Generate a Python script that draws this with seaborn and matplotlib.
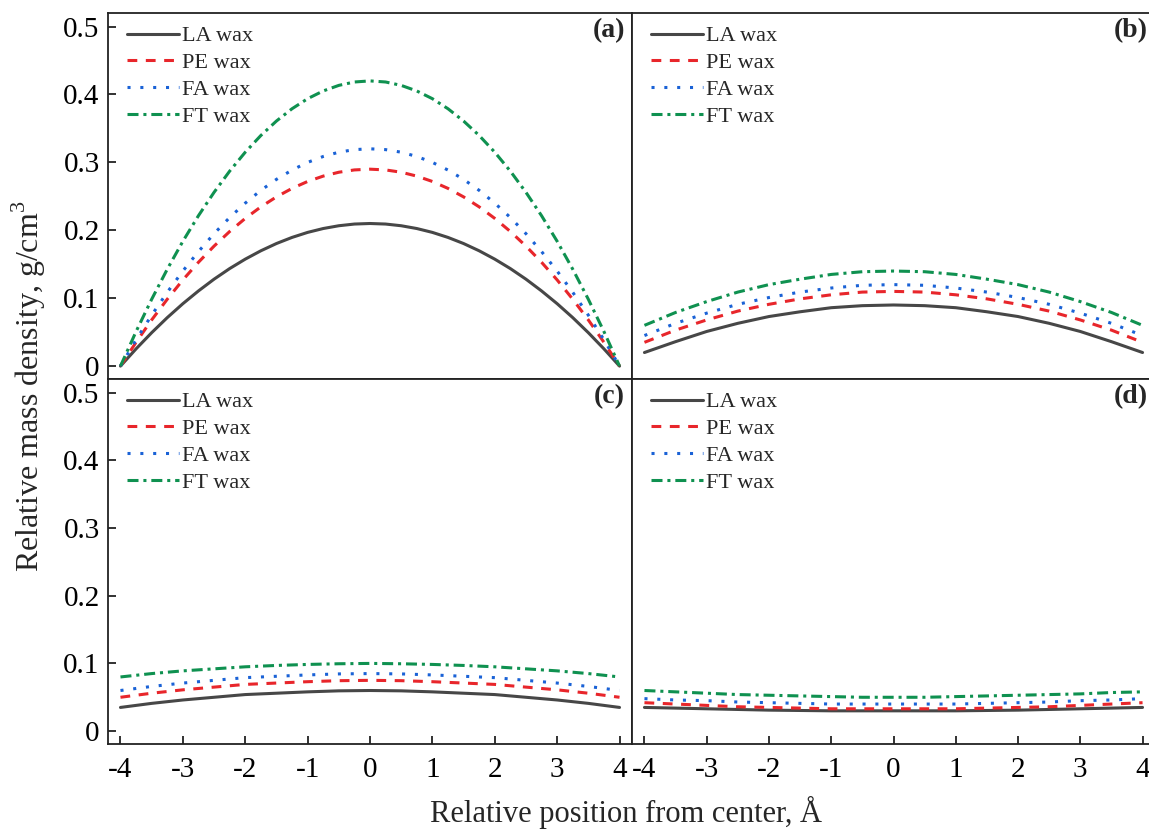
import numpy as np
import pandas as pd
import seaborn as sns
import matplotlib
matplotlib.use("Agg")
import matplotlib.pyplot as plt
from matplotlib.ticker import FuncFormatter

# ---------------- data ----------------
positions_a = [-4, -3.75, -3.5, -3.25, -3, -2.75, -2.5, -2.25, -2, -1.75, -1.5, -1.25, -1, -0.75, -0.5, -0.25,
               0, 0.25, 0.5, 0.75, 1, 1.25, 1.5, 1.75, 2, 2.25, 2.5, 2.75, 3, 3.25, 3.5, 3.75, 4]
positions = [-4, -3.5, -3, -2.5, -2, -1.5, -1, -0.5, 0, 0.5, 1, 1.5, 2, 2.5, 3, 3.5, 4]
series_names = ["LA wax", "PE wax", "FA wax", "FT wax"]
panel_labels = ["(a)", "(b)", "(c)", "(d)"]

a_LA = [0, 0.0254, 0.0492, 0.0714, 0.0919, 0.1107, 0.1280, 0.1436, 0.1575, 0.1698, 0.1805, 0.1895, 0.1969, 0.2026, 0.2067, 0.2092,
        0.2100, 0.2092, 0.2067, 0.2026, 0.1969, 0.1895, 0.1805, 0.1698, 0.1575, 0.1436, 0.1280, 0.1107, 0.0919, 0.0714, 0.0492, 0.0254, 0]
a_PE = [0, 0.0351, 0.0680, 0.0985, 0.1269, 0.1529, 0.1767, 0.1982, 0.2175, 0.2345, 0.2492, 0.2617, 0.2719, 0.2798, 0.2855, 0.2889,
        0.2900, 0.2889, 0.2855, 0.2798, 0.2719, 0.2617, 0.2492, 0.2345, 0.2175, 0.1982, 0.1767, 0.1529, 0.1269, 0.0985, 0.0680, 0.0351, 0]
a_FA = [0, 0.0388, 0.0750, 0.1087, 0.1400, 0.1687, 0.1950, 0.2188, 0.2400, 0.2588, 0.2750, 0.2887, 0.3000, 0.3087, 0.3150, 0.3188,
        0.3200, 0.3188, 0.3150, 0.3087, 0.3000, 0.2887, 0.2750, 0.2588, 0.2400, 0.2188, 0.1950, 0.1687, 0.1400, 0.1087, 0.0750, 0.0388, 0]
a_FT = [0, 0.0509, 0.0984, 0.1427, 0.1838, 0.2215, 0.2559, 0.2871, 0.3150, 0.3396, 0.3609, 0.3790, 0.3938, 0.4052, 0.4134, 0.4184,
        0.4200, 0.4184, 0.4134, 0.4052, 0.3938, 0.3790, 0.3609, 0.3396, 0.3150, 0.2871, 0.2559, 0.2215, 0.1838, 0.1427, 0.0984, 0.0509, 0]

b_LA = [0.020, 0.036, 0.051, 0.063, 0.073, 0.080, 0.086, 0.089, 0.090, 0.089, 0.086, 0.080, 0.073, 0.063, 0.051, 0.036, 0.020]
b_PE = [0.035, 0.053, 0.068, 0.081, 0.091, 0.099, 0.105, 0.109, 0.110, 0.109, 0.105, 0.099, 0.091, 0.081, 0.068, 0.053, 0.035]
b_FA = [0.045, 0.063, 0.078, 0.091, 0.101, 0.109, 0.115, 0.119, 0.120, 0.119, 0.115, 0.109, 0.101, 0.091, 0.078, 0.063, 0.045]
b_FT = [0.060, 0.079, 0.095, 0.109, 0.120, 0.128, 0.135, 0.139, 0.140, 0.139, 0.135, 0.128, 0.120, 0.109, 0.095, 0.079, 0.060]

c_LA = [0.035, 0.041, 0.046, 0.050, 0.054, 0.056, 0.058, 0.0595, 0.060, 0.0595, 0.058, 0.056, 0.054, 0.050, 0.046, 0.041, 0.035]
c_PE = [0.050, 0.056, 0.061, 0.065, 0.069, 0.071, 0.073, 0.0745, 0.075, 0.0745, 0.073, 0.071, 0.069, 0.065, 0.061, 0.056, 0.050]
c_FA = [0.060, 0.066, 0.071, 0.075, 0.079, 0.081, 0.083, 0.0845, 0.085, 0.0845, 0.083, 0.081, 0.079, 0.075, 0.071, 0.066, 0.060]
c_FT = [0.080, 0.085, 0.089, 0.092, 0.095, 0.097, 0.0985, 0.0995, 0.100, 0.0995, 0.0985, 0.097, 0.095, 0.092, 0.089, 0.085, 0.080]

d_LA = [0.035, 0.034, 0.033, 0.032, 0.031, 0.0305, 0.030, 0.030, 0.030, 0.030, 0.030, 0.0305, 0.031, 0.032, 0.033, 0.034, 0.035]
d_PE = [0.042, 0.040, 0.038, 0.036, 0.035, 0.034, 0.033, 0.033, 0.033, 0.033, 0.033, 0.034, 0.035, 0.036, 0.038, 0.040, 0.042]
d_FA = [0.048, 0.046, 0.045, 0.043, 0.042, 0.041, 0.040, 0.040, 0.040, 0.040, 0.040, 0.041, 0.042, 0.043, 0.045, 0.046, 0.048]
d_FT = [0.060, 0.058, 0.056, 0.054, 0.053, 0.052, 0.051, 0.050, 0.050, 0.050, 0.051, 0.052, 0.053, 0.054, 0.055, 0.057, 0.058]

panels = [
    (positions_a, [a_LA, a_PE, a_FA, a_FT]),
    (positions, [b_LA, b_PE, b_FA, b_FT]),
    (positions, [c_LA, c_PE, c_FA, c_FT]),
    (positions, [d_LA, d_PE, d_FA, d_FT]),
]

x_ticks = [-4, -3, -2, -1, 0, 1, 2, 3, 4]
y_ticks = [0, 0.1, 0.2, 0.3, 0.4, 0.5]

# ---------------- style ----------------
sns.set_theme(style="ticks")
plt.rcParams["font.family"] = ["Liberation Serif", "DejaVu Serif"]
plt.rcParams["axes.unicode_minus"] = False
plt.rcParams["mathtext.fontset"] = "custom"
plt.rcParams["mathtext.rm"] = "Liberation Serif"

colors = ["#474747", "#e8262b", "#1a62d6", "#0f9150"]
dashes = ["-", (0, (3.2, 2.8)), (0, (1.0, 3.2)), (0, (3.6, 1.6, 1.0, 1.6))]
lws = [2.2, 2.2, 2.2, 2.2]

fig = plt.figure(figsize=(11.49, 8.30), dpi=100)
W, H = 1149.0, 830.0
left, mid, right = 108 / W, 632 / W, 1155 / W
top, hmid, bot = 1 - 13 / H, 1 - 379 / H, 1 - 744 / H

rects = [
    [left, hmid, mid - left, top - hmid],
    [mid, hmid, right - mid, top - hmid],
    [left, bot, mid - left, hmid - bot],
    [mid, bot, right - mid, hmid - bot],
]

for i, (rect, (xs, data)) in enumerate(zip(rects, panels)):
    ax = fig.add_axes(rect)
    for name, ys, c, ls, lw in zip(series_names, data, colors, dashes, lws):
        df = pd.DataFrame({"x": xs, "y": ys})
        sns.lineplot(data=df, x="x", y="y", ax=ax, color=c, linestyle=ls,
                     linewidth=lw, label=name)
    ax.set_xlim(-4.2, 4.2)
    ax.set_ylim(-0.019, 0.52)
    ax.set_xlabel("")
    ax.set_ylabel("")
    for sp in ax.spines.values():
        sp.set_linewidth(1.3)
        sp.set_color("#222222")
    ax.set_xticks(x_ticks)
    ax.set_yticks(y_ticks)
    ax.yaxis.set_major_formatter(FuncFormatter(lambda v, p: f"{v:g}"))
    ax.tick_params(direction="in", length=6, width=1.3, labelsize=21,
                   colors="#222222", labelcolor="black")
    ax.tick_params(axis="x", pad=9)
    ax.tick_params(axis="y", pad=6)
    if i in (0, 1):
        ax.tick_params(axis="x", bottom=False, labelbottom=False)
    if i in (1, 3):
        ax.tick_params(axis="y", left=False, labelleft=False)
    ax.legend(loc="upper left", frameon=False, fontsize=16,
              handlelength=2.35, handletextpad=0.15, labelspacing=0.28,
              borderaxespad=0.0,
              bbox_to_anchor=(10 / (rect[2] * W), 1 - 4 / (rect[3] * H)))
    ax.text(1 - 7 / (rect[2] * W), 1 - 18 / (rect[3] * H), panel_labels[i],
            transform=ax.transAxes, ha="right", va="center",
            fontsize=20, fontweight="bold")

fig.text(29 / W, 1 - 386 / H, "Relative mass density, g/cm$^3$",
         rotation=90, ha="center", va="center", fontsize=23)
fig.text(626 / W, 1 - 812 / H, "Relative position from center, Å",
         ha="center", va="center", fontsize=22)

fig.savefig("out.png", dpi=100, facecolor="white")
